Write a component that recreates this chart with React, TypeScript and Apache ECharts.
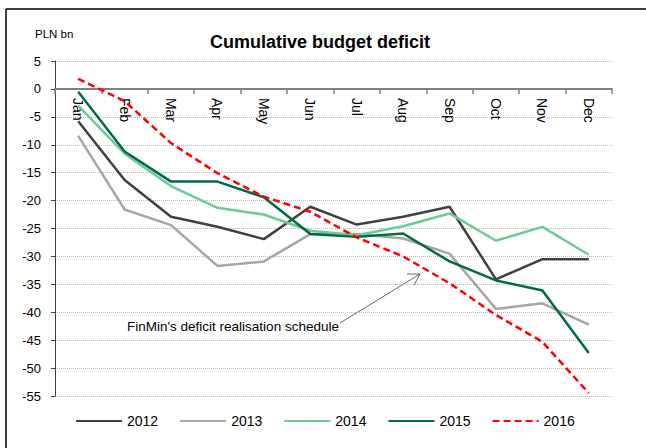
import React, { useEffect, useRef } from "react";
import * as echarts from "echarts";

const months = ["Jan", "Feb", "Mar", "Apr", "May", "Jun", "Jul", "Aug", "Sep", "Oct", "Nov", "Dec"];
const years = ["2012", "2013", "2014", "2015", "2016"];
const d2012 = [-5.8, -16.3, -22.9, -24.7, -26.9, -21.1, -24.3, -22.9, -21.1, -34.1, -30.5, -30.5];
const d2013 = [-8.4, -21.6, -24.4, -31.7, -30.9, -26.0, -26.0, -26.8, -29.5, -39.4, -38.4, -42.2];
const d2014 = [-3.0, -11.6, -17.4, -21.3, -22.5, -25.4, -26.2, -24.6, -22.3, -27.2, -24.7, -29.7];
const d2015 = [-0.5, -11.2, -16.6, -16.6, -19.4, -26.0, -26.5, -25.9, -30.9, -34.3, -36.1, -47.3];
const d2016 = [1.8, -2.2, -9.7, -15.1, -19.3, -22.0, -26.6, -30.0, -34.8, -40.5, -45.3, -54.5];
const yTicks = { min: -55, max: 5, interval: 5 };

const colors = ["#404040", "#a6a6a6", "#6acb97", "#006b42", "#ff0000"];
const FONT = "'Liberation Sans', Arial, sans-serif";

const GRID = { left: 55, right: 34, top: 61, bottom: 52 };
const H = 448;

export default function App() {
  const ref = useRef<HTMLDivElement>(null);
  useEffect(() => {
    document.body.style.margin = "0";
    const chart = echarts.init(ref.current!, null, { renderer: "svg" });
    const data = [d2012, d2013, d2014, d2015, d2016];
    const gridH = H - GRID.top - GRID.bottom;
    const zeroOffset = -((yTicks.max - 0) / (yTicks.max - yTicks.min)) * gridH;
    chart.setOption({
      animation: false,
      backgroundColor: "#ffffff",
      title: {
        text: "Cumulative budget deficit",
        left: 205,
        top: 28,
        textStyle: { fontFamily: FONT, fontWeight: "bold", fontSize: 18, color: "#000" },
      },
      legend: {
        left: 75,
        top: 414,
        padding: 0,
        itemWidth: 46,
        itemHeight: 14,
        itemGap: 21,
        data: years,
        itemStyle: { opacity: 0 },
        textStyle: { fontFamily: FONT, fontSize: 14, color: "#000" },
      },
      grid: GRID,
      xAxis: {
        type: "category",
        data: months,
        boundaryGap: true,
        position: "top",
        offset: zeroOffset,
        axisLine: { show: true, onZero: false, lineStyle: { color: "#808080", width: 2 } },
        axisTick: { show: true, inside: true, alignWithLabel: false, length: 5, interval: 0, lineStyle: { color: "#808080", width: 1.5 } },
        axisLabel: { inside: true, rotate: 90, margin: 9, interval: 0, fontFamily: FONT, fontSize: 14, color: "#000" },
        splitLine: { show: false },
      },
      yAxis: {
        type: "value",
        min: yTicks.min,
        max: yTicks.max,
        interval: yTicks.interval,
        axisLine: { show: true, lineStyle: { color: "#404040", width: 1 } },
        axisTick: { show: true, length: 4, lineStyle: { color: "#404040" } },
        axisLabel: { margin: 14, fontFamily: FONT, fontSize: 13, color: "#000" },
        splitLine: { show: true, lineStyle: { color: "#b8b8b8", type: "dotted", width: 1 } },
      },
      series: years.map((y, i) => ({
        name: y,
        type: "line",
        data: data[i],
        symbol: "none",
        smooth: false,
        color: colors[i],
        lineStyle: { color: colors[i], width: 2.5, type: i === 4 ? [7, 4] : "solid" },
        z: 2 + i,
      })),
      graphic: [
        { type: "line", shape: { x1: 6, y1: 9, x2: 646, y2: 9 }, style: { stroke: "#000", lineWidth: 1.5 } },
        { type: "line", shape: { x1: 6, y1: 9, x2: 6, y2: 448 }, style: { stroke: "#000", lineWidth: 1.5 } },
        {
          type: "text",
          left: 35,
          top: 28,
          style: { text: "PLN bn", fontFamily: FONT, fontSize: 11.5, fill: "#000" },
        },
        {
          type: "text",
          x: 127,
          y: 326,
          style: {
            text: "FinMin's deficit realisation schedule",
            fontFamily: FONT,
            fontSize: 13.5,
            fill: "#000",
            verticalAlign: "middle",
            align: "left",
          },
        },
        { type: "polyline", shape: { points: [[340, 323], [420, 274]] }, style: { stroke: "#404040", lineWidth: 0.8, fill: "none" } },
        { type: "polyline", shape: { points: [[407, 274], [420, 274], [414, 285]] }, style: { stroke: "#404040", lineWidth: 0.8, fill: "none" } },
      ],
    });
    return () => chart.dispose();
  }, []);
  return <div ref={ref} style={{ width: 646, height: 448, position: "absolute", left: 0, top: 0 }} />;
}
